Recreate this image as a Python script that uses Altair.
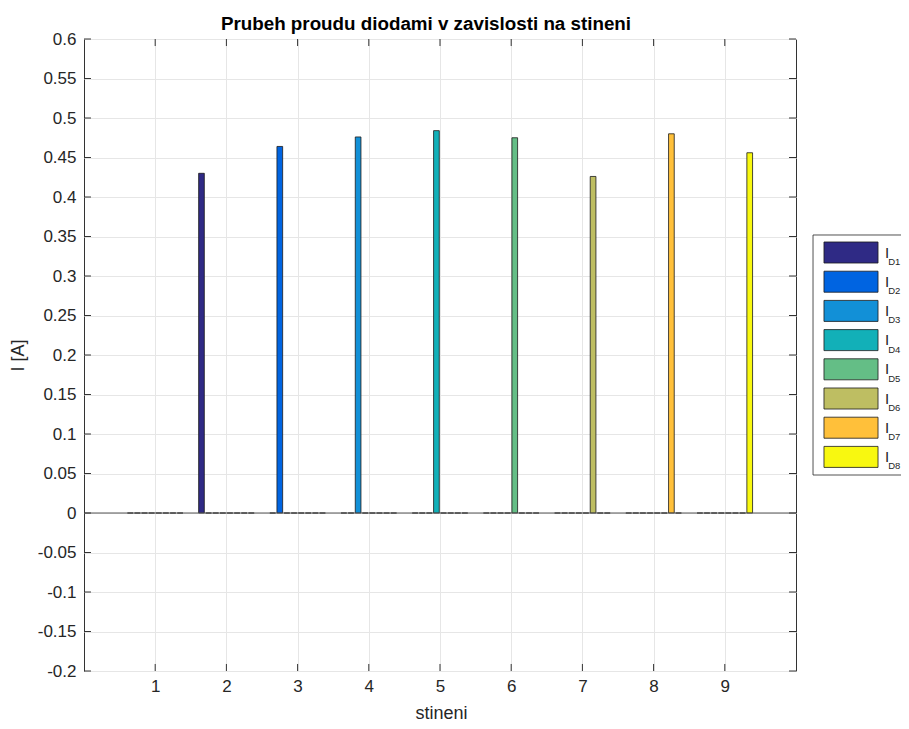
import altair as alt
import pandas as pd

# ---- data ----
groups = [1, 2, 3, 4, 5, 6, 7, 8, 9]
series = ["I_D1", "I_D2", "I_D3", "I_D4", "I_D5", "I_D6", "I_D7", "I_D8"]
subscripts = ["D1", "D2", "D3", "D4", "D5", "D6", "D7", "D8"]
colors = ["#2F2A85", "#0064E1", "#1290D7", "#12B0B8", "#64BE86", "#BEBE62", "#FFC03A", "#F8F810"]

I_D1 = [0, 0.430, 0, 0, 0, 0, 0, 0, 0]
I_D2 = [0, 0, 0.464, 0, 0, 0, 0, 0, 0]
I_D3 = [0, 0, 0, 0.476, 0, 0, 0, 0, 0]
I_D4 = [0, 0, 0, 0, 0.484, 0, 0, 0, 0]
I_D5 = [0, 0, 0, 0, 0, 0.475, 0, 0, 0]
I_D6 = [0, 0, 0, 0, 0, 0, 0.426, 0, 0]
I_D7 = [0, 0, 0, 0, 0, 0, 0, 0.480, 0]
I_D8 = [0, 0, 0, 0, 0, 0, 0, 0, 0.456]
values = [I_D1, I_D2, I_D3, I_D4, I_D5, I_D6, I_D7, I_D8]

y_ticks = [-0.2, -0.15, -0.1, -0.05, 0, 0.05, 0.1, 0.15, 0.2, 0.25, 0.3, 0.35, 0.4, 0.45, 0.5, 0.55, 0.6]

TITLE = "Prubeh proudu diodami v zavislosti na stineni"
FONT = "Liberation Sans"
TXT = "#262626"

rows = []
for k, (s, vals) in enumerate(zip(series, values)):
    for g, v in zip(groups, vals):
        rows.append({"group": g, "series": s, "k": k, "value": v})
bars_df = pd.DataFrame(rows)

legend_df = pd.DataFrame({"series": series, "sub": subscripts, "row": list(range(len(series)))})
ytick_df = pd.DataFrame({"v": y_ticks})
xtick_df = pd.DataFrame({"g": groups})
title_df = pd.DataFrame({"t": [TITLE]})


def xs():
    return alt.Scale(domain=[0, 10], nice=False, zero=False)


def ys():
    return alt.Scale(domain=[-0.2, 0.6], nice=False, zero=False)


def lys():
    return alt.Scale(domain=[-7.312, 14.332], reverse=True, nice=False, zero=False)


cscale = alt.Scale(domain=series, range=colors)

bars = alt.Chart(bars_df).transform_calculate(
    xc="datum.group - 0.35 + 0.1 * datum.k"
).transform_calculate(
    x0="datum.xc - 0.04", x1="datum.xc + 0.04"
).mark_rect(stroke="#1a1a1a", strokeWidth=0.8).encode(
    x=alt.X("x0:Q", scale=xs(), axis=alt.Axis(
        values=groups, title="stineni", grid=True, ticks=False, domain=False,
        labelPadding=7, titleX=357, titleY=47, titleBaseline="alphabetic",
    )),
    x2="x1:Q",
    y=alt.Y("value:Q", scale=ys(), axis=alt.Axis(
        values=y_ticks, title="I [A]", grid=True, ticks=False, domain=False,
        labelExpr="toString(datum.value)", labelPadding=8,
        titleX=-66, titleY=316, titleBaseline="middle", titleAngle=-90, titleAlign="center",
    )),
    y2=alt.datum(0),
    color=alt.Color("series:N", scale=cscale, legend=None),
)

baseline = alt.Chart(xtick_df).transform_filter("datum.g == 1").mark_rule(
    color="#555555", strokeWidth=1
).encode(
    x=alt.X(datum=0, scale=xs(), axis=None), x2=alt.datum(10),
    y=alt.Y(datum=0, scale=ys(), axis=None),
)

TLX = 0.098
TLY = 0.0089
left_ticks = alt.Chart(ytick_df).mark_rule(color="#333333", strokeWidth=1).encode(
    y=alt.Y("v:Q", scale=ys(), axis=None),
    x=alt.X(datum=0, scale=xs(), axis=None), x2=alt.datum(TLX))
right_ticks = alt.Chart(ytick_df).mark_rule(color="#333333", strokeWidth=1).encode(
    y=alt.Y("v:Q", scale=ys(), axis=None),
    x=alt.X(datum=10 - TLX, scale=xs(), axis=None), x2=alt.datum(10))
bottom_ticks = alt.Chart(xtick_df).mark_rule(color="#333333", strokeWidth=1).encode(
    x=alt.X("g:Q", scale=xs(), axis=None),
    y=alt.Y(datum=-0.2, scale=ys(), axis=None), y2=alt.datum(-0.2 + TLY))
top_ticks = alt.Chart(xtick_df).mark_rule(color="#333333", strokeWidth=1).encode(
    x=alt.X("g:Q", scale=xs(), axis=None),
    y=alt.Y(datum=0.6 - TLY, scale=ys(), axis=None), y2=alt.datum(0.6))

title = alt.Chart(title_df).mark_text(
    font=FONT, fontSize=18.8, fontWeight="bold", color="#000000",
    align="center", baseline="alphabetic", dx=-14, dy=-9,
).encode(
    x=alt.X(datum=5, scale=xs(), axis=None),
    y=alt.Y(datum=0.6, scale=ys(), axis=None),
    text="t:N",
)

# ---- custom legend (subscript labels) ----
box = alt.Chart(legend_df).transform_filter("datum.row == 0").mark_rect(
    fill="white", stroke="#262626", strokeWidth=0.8
).encode(
    x=alt.X(datum=10.239, scale=xs(), axis=None), x2=alt.datum(11.62),
    y=alt.Y(datum=-0.6, scale=lys(), axis=None), y2=alt.datum(7.62),
)
swatch = alt.Chart(legend_df).transform_calculate(
    r0="datum.row - 0.36", r1="datum.row + 0.36"
).mark_rect(stroke="#1a1a1a", strokeWidth=0.8).encode(
    x=alt.X(datum=10.393, scale=xs(), axis=None), x2=alt.datum(11.152),
    y=alt.Y("r0:Q", scale=lys(), axis=None), y2="r1:Q",
    color=alt.Color("series:N", scale=cscale, legend=None),
)
lab_i = alt.Chart(legend_df).mark_text(
    align="left", baseline="alphabetic", font=FONT, fontSize=15, color=TXT, dy=5
).encode(
    x=alt.X(datum=11.25, scale=xs(), axis=None),
    y=alt.Y("row:Q", scale=lys(), axis=None), text=alt.value("I"),
)
lab_sub = alt.Chart(legend_df).mark_text(
    align="left", baseline="alphabetic", font=FONT, fontSize=9.5, color=TXT, dy=12.5
).encode(
    x=alt.X(datum=11.295, scale=xs(), axis=None),
    y=alt.Y("row:Q", scale=lys(), axis=None), text="sub:N",
)

chart = alt.layer(
    bars, baseline, left_ticks, right_ticks, bottom_ticks, top_ticks, title,
    box, swatch, lab_i, lab_sub,
).resolve_scale(x="independent", y="independent").properties(
    width=712, height=632,
    autosize=alt.AutoSizeParams(type="none"),
    padding={"left": 76, "top": 31, "right": 105, "bottom": 50},
).configure_view(
    stroke="#333333", strokeWidth=1
).configure_axis(
    labelFont=FONT, labelFontSize=17, labelColor=TXT,
    titleFont=FONT, titleFontSize=18, titleFontWeight="normal", titleColor=TXT,
    gridColor="#E6E6E6", gridWidth=1, gridOpacity=1,
)

chart.save("out.html", embed_options={"renderer": "svg", "actions": False})
